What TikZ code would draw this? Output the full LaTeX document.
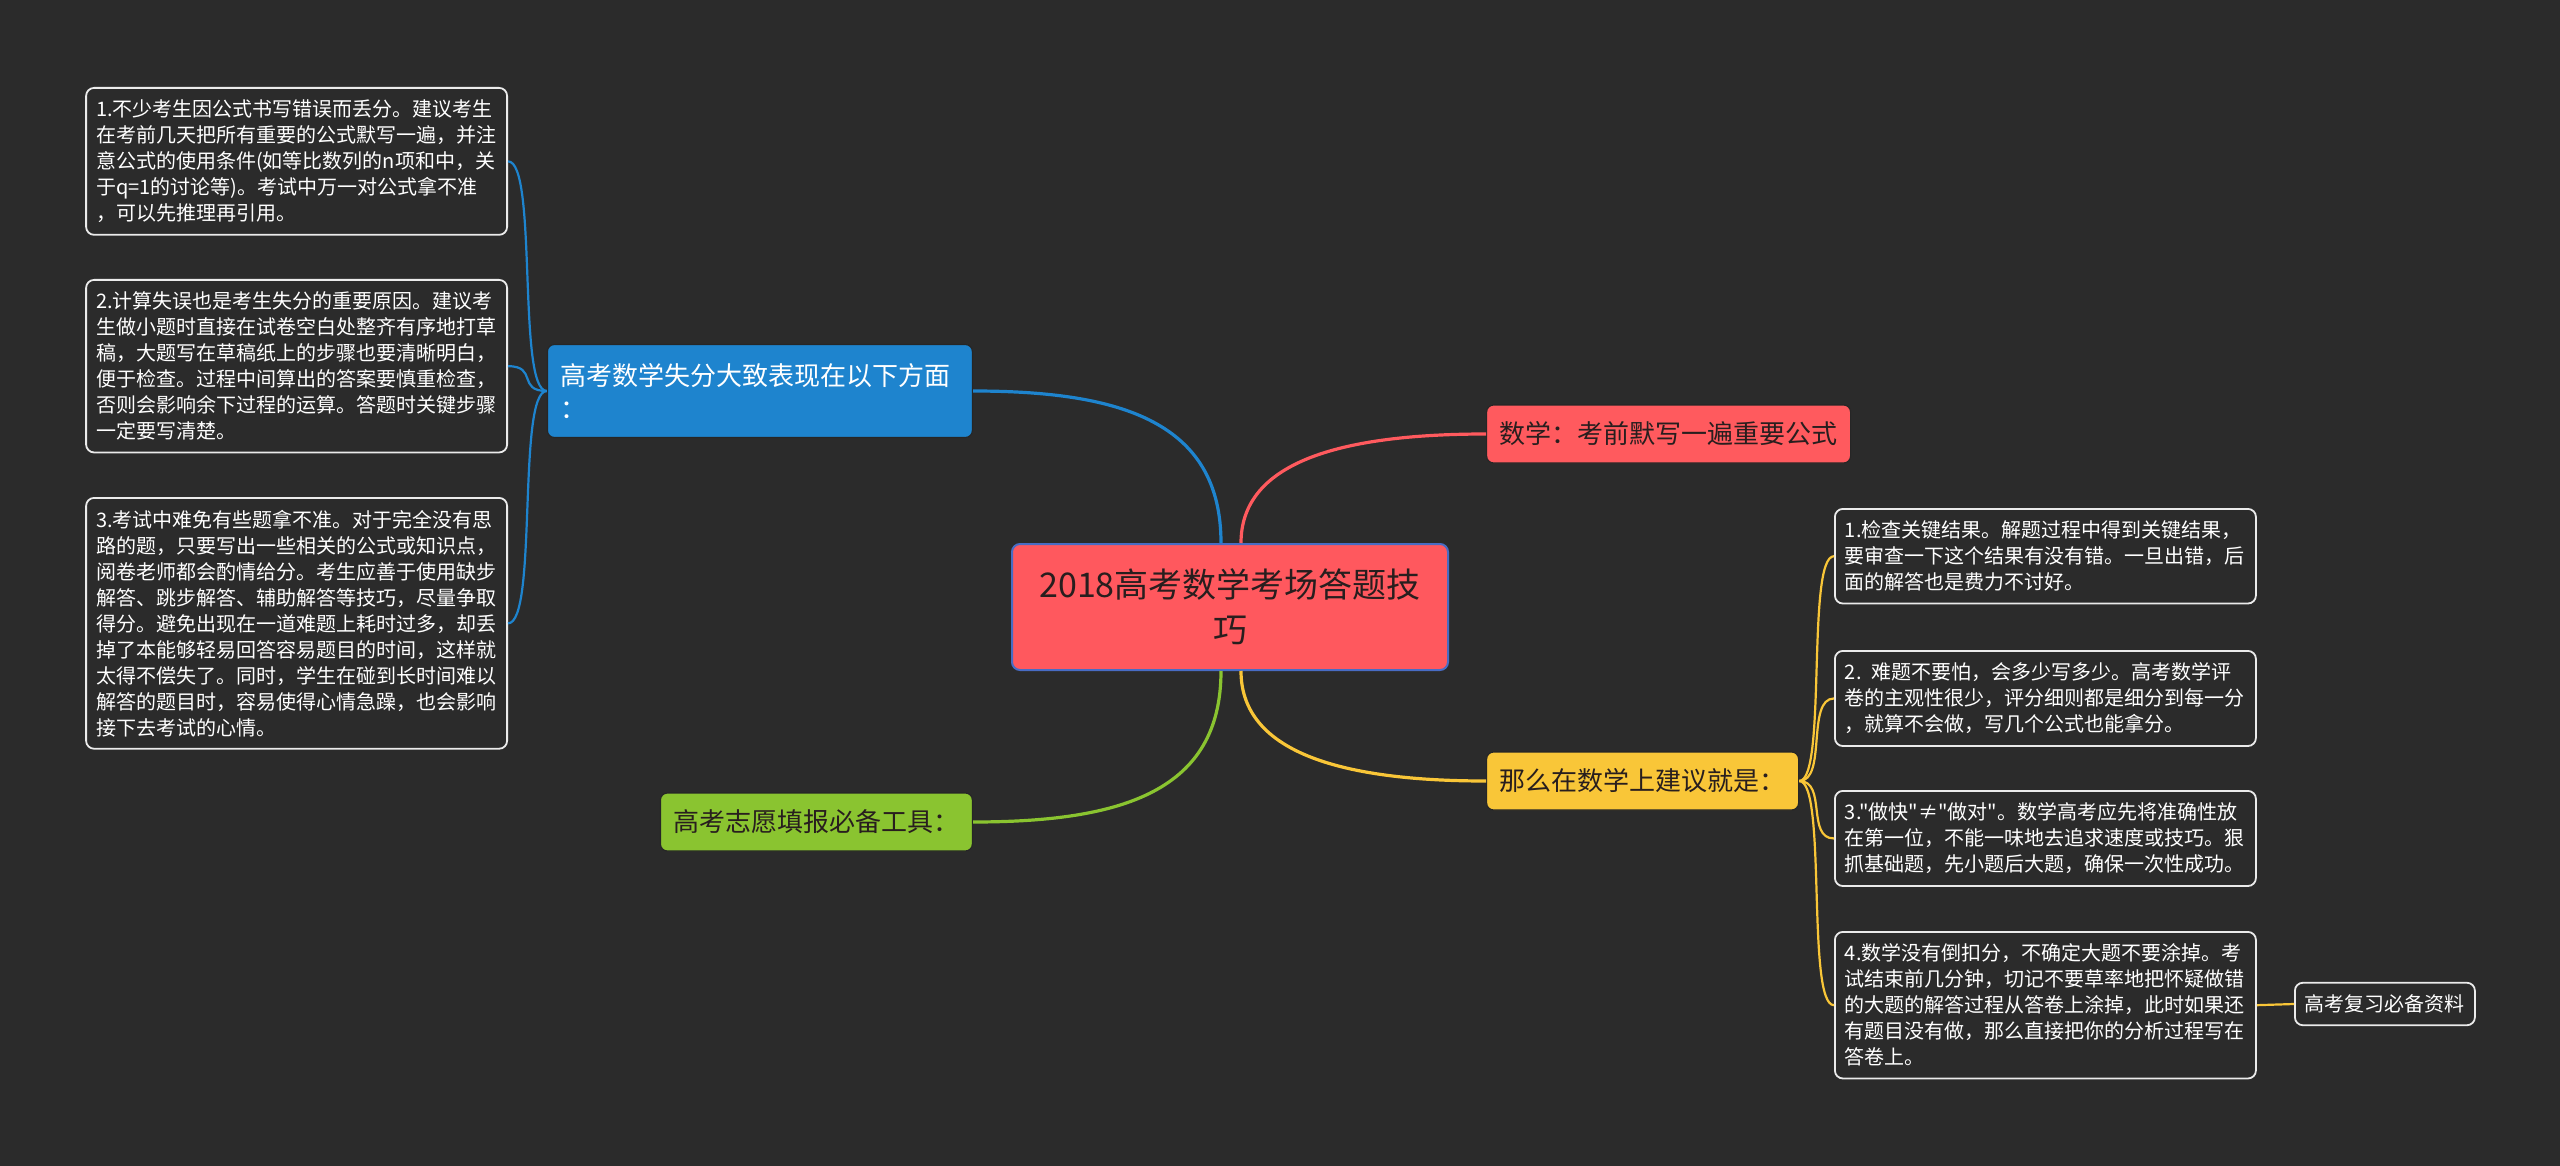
\documentclass[tikz,border=0pt]{standalone}
\usepackage{fontspec}
\newfontfamily\cjk{Noto Sans CJK SC}
\usepackage{tikz}

\definecolor{bgc}{RGB}{43,43,43}
\definecolor{rootfill}{RGB}{255,88,94}
\definecolor{rootline}{RGB}{72,108,196}
\definecolor{bluec}{RGB}{30,132,206}
\definecolor{redc}{RGB}{255,90,94}
\definecolor{greenc}{RGB}{138,196,48}
\definecolor{yellowc}{RGB}{249,198,56}
\definecolor{inkc}{RGB}{40,30,30}

\begin{document}
\begin{tikzpicture}[x=0.5pt,y=-0.5pt,
  root/.style={draw=rootline, line width=1pt, fill=rootfill, rounded corners=4pt, align=center, text=inkc, font=\cjk\fontsize{17}{22.5}\selectfont, minimum width=218pt, minimum height=63pt, inner sep=0pt},
  topic/.style={draw=black!85, line width=0.6pt, rounded corners=3.5pt, align=left, text=inkc, font=\cjk\fontsize{13}{16.5}\selectfont, inner xsep=6.5pt, inner ysep=0pt, minimum height=29pt},
  leaf/.style={draw=white!92!black, line width=0.9pt, rounded corners=4pt, fill=bgc, text=white, align=left, text width=200.5pt, font=\cjk\fontsize{10}{13}\selectfont, inner xsep=5pt, inner ysep=6pt},
  tip/.style={draw=white!92!black, line width=0.9pt, rounded corners=4pt, fill=bgc, text=white, font=\cjk\fontsize{10}{13}\selectfont, inner xsep=5pt, inner ysep=6pt},
  link/.style={line width=1.6pt},
  twig/.style={line width=1.1pt}
]
\fill[bgc] (0,0) rectangle (2560,1166);
\useasboundingbox (0,0) rectangle (2560,1166);

% centre
\node[root] (ctr) at (1230,607) {2018高考数学考场答题技\\巧};

% first level, left then right
\node[topic, fill=bluec, text=white, text width=199.5pt, minimum height=46.5pt, anchor=east] (lose) at (973,391) {高考数学失分大致表现在以下方面\\：};
\node[topic, fill=greenc, anchor=east] (tool) at (973,822) {高考志愿填报必备工具：};
\node[topic, fill=redc, anchor=west] (form) at (1486,434) {数学：考前默写一遍重要公式};
\node[topic, fill=yellowc, anchor=west] (advice) at (1486,781) {那么在数学上建议就是：};

% left leaves
\node[leaf, anchor=north east] (l1) at (508,87) {1.不少考生因公式书写错误而丢分。建议考生\\在考前几天把所有重要的公式默写一遍，并注\\意公式的使用条件(如等比数列的n项和中，关\\于q=1的讨论等)。考试中万一对公式拿不准\\，可以先推理再引用。};
\node[leaf, anchor=north east] (l2) at (508,279) {2.计算失误也是考生失分的重要原因。建议考\\生做小题时直接在试卷空白处整齐有序地打草\\稿，大题写在草稿纸上的步骤也要清晰明白，\\便于检查。过程中间算出的答案要慎重检查，\\否则会影响余下过程的运算。答题时关键步骤\\一定要写清楚。};
\node[leaf, anchor=north east] (l3) at (508,497) {3.考试中难免有些题拿不准。对于完全没有思\\路的题，只要写出一些相关的公式或知识点，\\阅卷老师都会酌情给分。考生应善于使用缺步\\解答、跳步解答、辅助解答等技巧，尽量争取\\得分。避免出现在一道难题上耗时过多，却丢\\掉了本能够轻易回答容易题目的时间，这样就\\太得不偿失了。同时，学生在碰到长时间难以\\解答的题目时，容易使得心情急躁，也会影响\\接下去考试的心情。};

% right leaves
\node[leaf, anchor=north west] (r1) at (1834,508) {1.检查关键结果。解题过程中得到关键结果，\\要审查一下这个结果有没有错。一旦出错，后\\面的解答也是费力不讨好。};
\node[leaf, anchor=north west] (r2) at (1834,650) {2. 难题不要怕，会多少写多少。高考数学评\\卷的主观性很少，评分细则都是细分到每一分\\，就算不会做，写几个公式也能拿分。};
\node[leaf, anchor=north west] (r3) at (1834,790) {3."做快"≠"做对"。数学高考应先将准确性放\\在第一位，不能一味地去追求速度或技巧。狠\\抓基础题，先小题后大题，确保一次性成功。};
\node[leaf, anchor=north west] (r4) at (1834,931) {4.数学没有倒扣分，不确定大题不要涂掉。考\\试结束前几分钟，切记不要草率地把怀疑做错\\的大题的解答过程从答卷上涂掉，此时如果还\\有题目没有做，那么直接把你的分析过程写在\\答卷上。};
\node[tip, anchor=west] (res) at (2294,1004) {高考复习必备资料};

% branches
\draw[link, bluec] ([xshift=-4.5pt]ctr.north) .. controls +(0,-120) and +(150,0) .. (lose.east);
\draw[link, redc] ([xshift=5.5pt]ctr.north) .. controls +(0,-75) and +(-160,0) .. (form.west);
\draw[link, greenc] ([xshift=-4.5pt]ctr.south) .. controls +(0,120) and +(150,0) .. (tool.east);
\draw[link, yellowc] ([xshift=5.5pt]ctr.south) .. controls +(0,75) and +(-160,0) .. (advice.west);

% twigs
\foreach \n in {l1,l2,l3}
  \draw[twig, bluec] (lose.west) .. controls +(-30,0) and +(30,0) .. (\n.east);
\foreach \n in {r1,r2,r3,r4}
  \draw[twig, yellowc] (advice.east) .. controls +(28,0) and +(-28,0) .. (\n.west);
\draw[twig, yellowc] (r4.east) -- (res.west);
\end{tikzpicture}
\end{document}
